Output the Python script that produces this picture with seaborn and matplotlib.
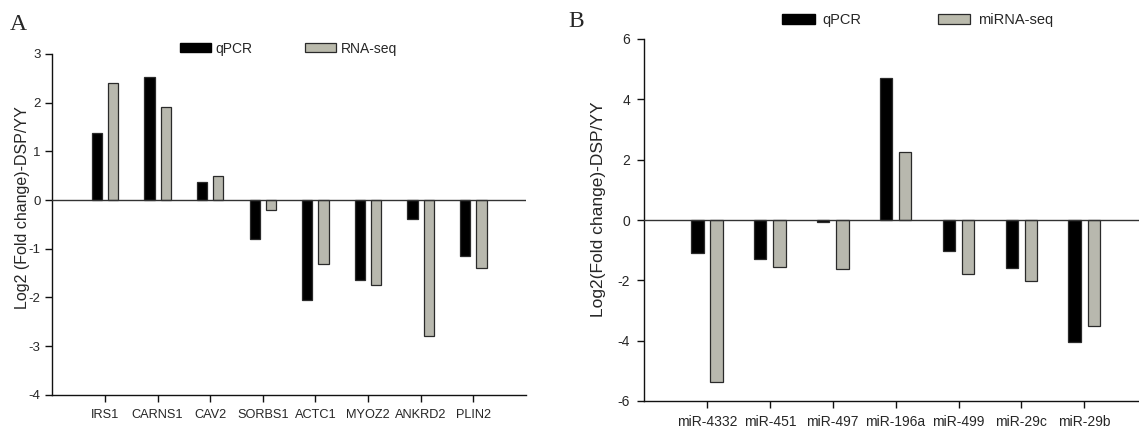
import numpy as np
import pandas as pd
import matplotlib
matplotlib.use("Agg")
import matplotlib.pyplot as plt
from matplotlib.patches import Patch
import seaborn as sns

# Panel A: mRNA validation
genes = ["IRS1", "CARNS1", "CAV2", "SORBS1", "ACTC1", "MYOZ2", "ANKRD2", "PLIN2"]
qpcr_a = [1.38, 2.53, 0.37, -0.81, -2.05, -1.64, -0.39, -1.16]
rnaseq_a = [2.40, 1.91, 0.50, -0.21, -1.32, -1.75, -2.80, -1.39]

# Panel B: miRNA validation
mirnas = ["miR-4332", "miR-451", "miR-497", "miR-196a", "miR-499", "miR-29c", "miR-29b"]
qpcr_b = [-1.08, -1.28, -0.06, 4.71, -1.04, -1.60, -4.04]
mirseq_b = [-5.36, -1.56, -1.64, 2.24, -1.80, -2.02, -3.52]

BLACK = "#000000"
GRAY = "#BABAAC"
EDGE = "#2a2a2a"

sns.set_style("ticks")
plt.rcParams["font.family"] = ["Liberation Sans", "DejaVu Sans"]

W, H = 1139, 429
fig = plt.figure(figsize=(W / 100, H / 100), dpi=100)


def px_axes(left, right, top, bottom):
    return fig.add_axes([left / W, 1 - bottom / H, (right - left) / W, (bottom - top) / H])


def long_frame(cats, a, b, name_a, name_b):
    return pd.DataFrame({
        "cat": list(cats) * 2,
        "val": list(a) + list(b),
        "method": [name_a] * len(cats) + [name_b] * len(cats),
    })


def style_axes(ax, n, ylim, yticks, tick_fs, pad_y):
    ax.set_xlim(-1, n)
    ax.set_ylim(*ylim)
    ax.set_yticks(yticks)
    ax.set_yticklabels([str(t) for t in yticks])
    ax.axhline(0, color="#333333", lw=1.0, zorder=3)
    for s in ("top", "right"):
        ax.spines[s].set_visible(False)
    for s in ("left", "bottom"):
        ax.spines[s].set_color("#111111")
        ax.spines[s].set_linewidth(1.0)
    ax.tick_params(axis="both", direction="out", length=5, width=1.0, color="#111111")
    ax.tick_params(axis="y", labelsize=tick_fs, pad=pad_y)
    ax.set_xlabel("")


# ---------------- Panel A ----------------
axA = px_axes(52.3, 526.0, 54.0, 394.7)
dfA = long_frame(genes, qpcr_a, rnaseq_a, "qPCR", "RNA-seq")
sns.barplot(data=dfA, x="cat", y="val", hue="method", palette=[BLACK, GRAY],
            width=0.62, gap=0.37, errorbar=None, edgecolor=EDGE, linewidth=0.9,
            legend=False, ax=axA)
style_axes(axA, len(genes), (-4, 3), list(range(-4, 4)), 9.5, 3.5)
axA.tick_params(axis="x", labelsize=9.2, pad=5)
axA.set_ylabel("Log2 (Fold change)-DSP/YY", fontsize=11.5)
axA.yaxis.label.set_va("center")
axA.yaxis.set_label_coords((22.5 - 52.3) / (526.0 - 52.3), (394.7 - 208) / (394.7 - 54.0))

fig.legend([Patch(facecolor=BLACK, edgecolor=BLACK), Patch(facecolor=GRAY, edgecolor=EDGE, lw=0.9)],
           ["qPCR", "RNA-seq"], loc="center left", bbox_to_anchor=(180 / W, 1 - 48.5 / H),
           ncol=2, frameon=False, fontsize=10, handlelength=2.25, handleheight=0.66,
           handletextpad=0.3, columnspacing=3.8, borderpad=0, borderaxespad=0)

fig.text(10 / W, 1 - 30 / H, "A", fontsize=17, family=["Liberation Serif", "DejaVu Serif"],
         ha="left", va="baseline")

# ---------------- Panel B ----------------
axB = px_axes(644.0, 644.0 + 8 * 62.9, 39.0, 401.0)
dfB = long_frame(mirnas, qpcr_b, mirseq_b, "qPCR", "miRNA-seq")
sns.barplot(data=dfB, x="cat", y="val", hue="method", palette=[BLACK, GRAY],
            width=0.61, gap=0.35, errorbar=None, edgecolor=EDGE, linewidth=0.9,
            legend=False, ax=axB)
style_axes(axB, len(mirnas), (-6, 6), list(range(-6, 7, 2)), 10, 5)
axB.tick_params(axis="x", labelsize=10, pad=5)
axB.set_ylabel("Log2(Fold change)-DSP/YY", fontsize=12.5)
axB.yaxis.label.set_va("center")
axB.yaxis.set_label_coords((598 - 644.0) / (8 * 62.9), (401.0 - 209) / (401.0 - 39.0))

fig.legend([Patch(facecolor=BLACK, edgecolor=BLACK), Patch(facecolor=GRAY, edgecolor=EDGE, lw=0.9)],
           ["qPCR", "miRNA-seq"], loc="center left", bbox_to_anchor=(782 / W, 1 - 20.3 / H),
           ncol=2, frameon=False, fontsize=10.5, handlelength=2.25, handleheight=0.73,
           handletextpad=0.55, columnspacing=5.2, borderpad=0, borderaxespad=0)

fig.text(568 / W, 1 - 27 / H, "B", fontsize=17, family=["Liberation Serif", "DejaVu Serif"],
         ha="left", va="baseline")

fig.savefig("out.png", dpi=100)
